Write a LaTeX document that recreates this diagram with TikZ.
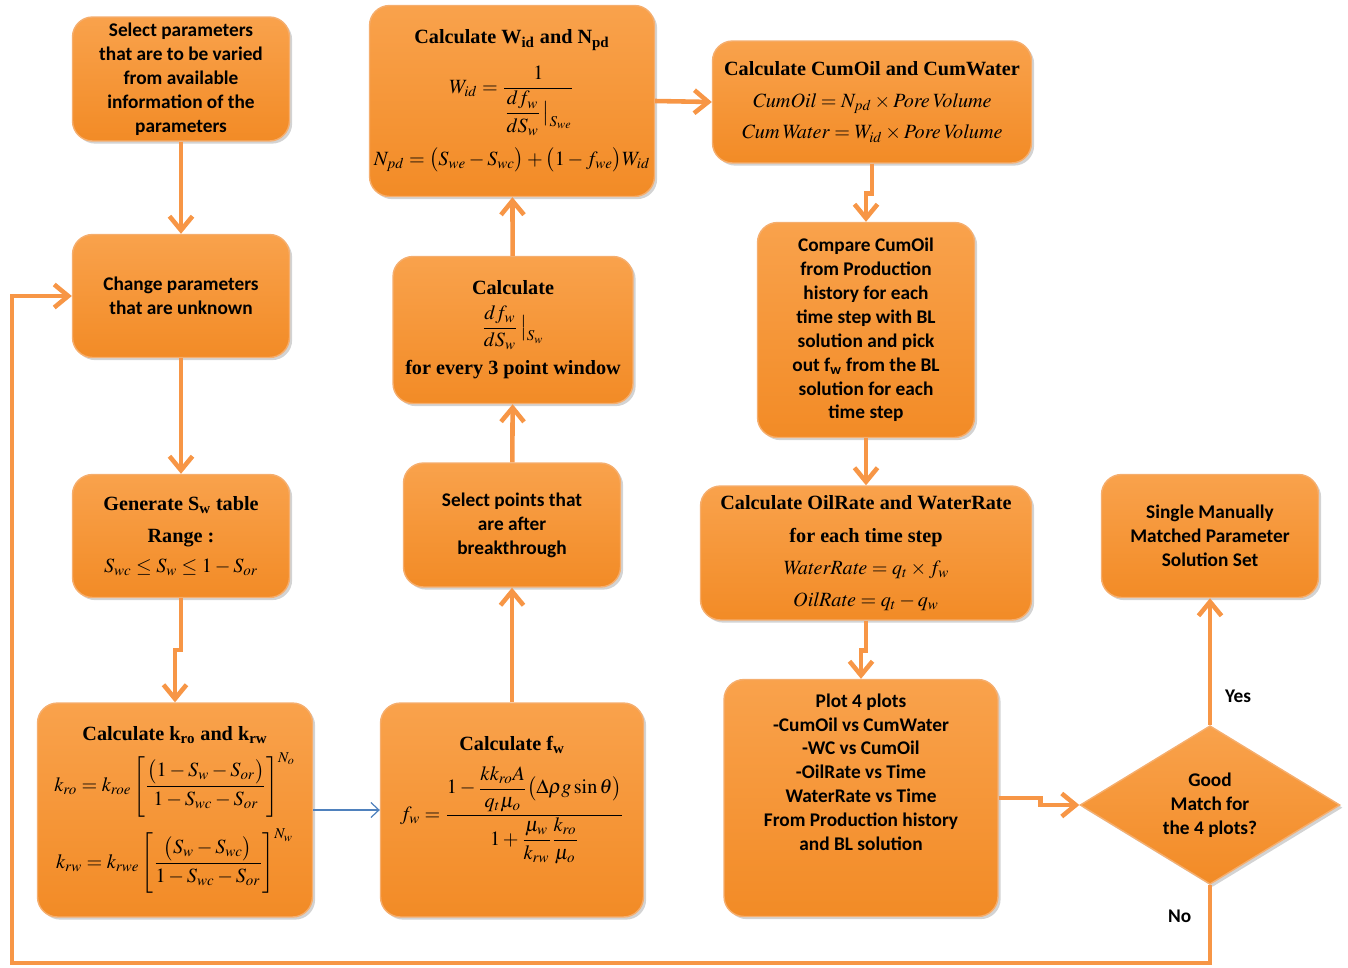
\documentclass[tikz,border=0pt]{standalone}
\usepackage{amsmath}
\usepackage{mathptmx}
\usepackage[no-math]{fontspec}
\setmainfont{Liberation Serif}
\newfontfamily\calib{Carlito}
\usetikzlibrary{arrows.meta,shapes.geometric,shadows}
\definecolor{boxtop}{HTML}{F9A24C}
\definecolor{boxbot}{HTML}{F28B26}
\definecolor{boxrim}{HTML}{F5AE6E}
\definecolor{linkorange}{HTML}{F79646}
\definecolor{linkblue}{HTML}{4F81BD}

\begin{document}
\begin{tikzpicture}[x=0.02cm,y=-0.02cm,
      box/.style={draw=boxrim,line width=0.8pt,top color=boxtop,bottom color=boxbot,
                  rounded corners=0.4cm,align=center,inner sep=2pt,
                  drop shadow={shadow xshift=1.5pt,shadow yshift=-1.5pt,opacity=0.35}},
      sans/.style={box,font=\calib\bfseries\fontsize{11}{13.6}\selectfont},
      calc/.style={box,font=\fontsize{11.5}{15}\selectfont},
      flow/.style={draw=linkorange,line width=2.6pt,
                   -{Straight Barb[length=2.8mm,width=4.6mm]}},
      thin/.style={draw=linkblue,line width=0.7pt,
                   -{Straight Barb[length=1.6mm,width=3mm]}},
      tag/.style={font=\calib\bfseries\fontsize{11}{13.6}\selectfont}]
    \useasboundingbox (0,0) rectangle (1348,967);
    % left column
    \node[sans,minimum width=4.34cm,minimum height=2.48cm] (sel) at (181,79)
      {Select parameters\\that are to be varied\\from available\\information of the\\parameters};
    \node[sans,minimum width=4.34cm,minimum height=2.46cm] (chg) at (181,296)
      {Change parameters\\that are unknown};
    \node[calc,minimum width=4.34cm,minimum height=2.46cm] (gen) at (181,536)
      {\textbf{Generate S\textsubscript{w} table}\\[3pt]\textbf{Range :}\\[2pt]
       $S_{wc}\le S_w\le 1-S_{or}$};
    \node[calc,minimum width=5.5cm,minimum height=4.28cm] (krel) at (175,810)
      {\textbf{Calculate k\textsubscript{ro} and k\textsubscript{rw}}\\[4pt]
       $k_{ro}=k_{roe}\left[\dfrac{\bigl(1-S_w-S_{or}\bigr)}{1-S_{wc}-S_{or}}\right]^{N_o}$\\[6pt]
       $k_{rw}=k_{rwe}\left[\dfrac{\bigl(S_w-S_{wc}\bigr)}{1-S_{wc}-S_{or}}\right]^{N_w}$};
    % middle column
    \node[calc,minimum width=5.26cm,minimum height=4.28cm] (frac) at (512,810)
      {\textbf{Calculate f\textsubscript{w}}\\[6pt]
       $f_w=\dfrac{1-\dfrac{kk_{ro}A}{q_t\mu_o}\bigl(\Delta\rho g\sin\theta\bigr)}
                  {1+\dfrac{\mu_w}{k_{rw}}\dfrac{k_{ro}}{\mu_o}}$\\[10pt]};
    \node[sans,minimum width=4.34cm,minimum height=2.48cm] (pts) at (512,525)
      {Select points that\\are after\\breakthrough};
    \node[calc,minimum width=4.8cm,minimum height=2.94cm] (deriv) at (513,330)
      {\textbf{Calculate}\\[5pt]$\dfrac{df_w}{dS_w}\,\big|_{S_w}$\\[5pt]
       \textbf{for every 3 point window}};
    \node[calc,minimum width=5.7cm,minimum height=3.82cm] (wid) at (512,101)
      {\textbf{Calculate W\textsubscript{id} and N\textsubscript{pd}}\\[8pt]
       $W_{id}=\dfrac{1}{\dfrac{df_w}{dS_w}\,\big|_{S_{we}}}$\\[6pt]
       $N_{pd}=\bigl(S_{we}-S_{wc}\bigr)+\bigl(1-f_{we}\bigr)W_{id}$};
    % right column
    \node[calc,minimum width=6.38cm,minimum height=2.44cm] (cum) at (872,102)
      {\textbf{Calculate CumOil and CumWater}\\[3pt]
       $\mathit{CumOil}=N_{pd}\times \mathit{Pore\,Volume}$\\[3pt]
       $\mathit{Cum\,Water}=W_{id}\times \mathit{Pore\,Volume}$};
    \node[sans,minimum width=4.34cm,minimum height=4.3cm] (cmp) at (866,330)
      {Compare CumOil\\from Production\\history for each\\time step with BL\\solution and pick\\
       out f\textsubscript{w} from the BL\\solution for each\\time step};
    \node[calc,minimum width=6.62cm,minimum height=2.68cm] (rate) at (866,553)
      {\textbf{Calculate OilRate and WaterRate}\\[4pt]\textbf{for each time step}\\[3pt]
       $\mathit{WaterRate}=q_t\times f_w$\\[3pt]$\mathit{OilRate}=q_t-q_w$};
    \node[sans,minimum width=5.48cm,minimum height=4.74cm] (plot) at (861,798)
      {Plot 4 plots\\-CumOil vs CumWater\\-WC vs CumOil\\-OilRate vs Time\\
       WaterRate vs Time\\From Production history\\and BL solution\\[16pt]};
    \node[sans,diamond,rounded corners=0pt,inner sep=0pt,minimum width=5.2cm,
          minimum height=3.1cm] (match) at (1210,805)
      {Good\\Match for\\the 4 plots?};
    \node[sans,minimum width=4.34cm,minimum height=2.46cm] (fin) at (1210,536)
      {Single Manually\\Matched Parameter\\Solution Set};
    % connectors
    \draw[flow] (sel) -- (chg);
    \draw[flow] (chg) -- (gen);
    \draw[flow] (gen.south) -- ++(0,52) -| (krel.north);
    \draw[thin] (krel.east) -- (frac.west);
    \draw[flow] (frac) -- (pts);
    \draw[flow] (pts) -- (deriv);
    \draw[flow] (deriv) -- (wid);
    \draw[flow] (wid.east) -- (cum.west);
    \draw[flow] (cum.south) -- ++(0,30) -| (cmp.north);
    \draw[flow] (cmp) -- (rate);
    \draw[flow] (rate.south) -- ++(0,30) -| (plot.north);
    \draw[flow] (plot.east) -- ++(42,0) |- (match.west);
    \draw[flow] (match.north) -- node[tag,pos=0.23,right=4pt] {Yes} (fin.south);
    \coordinate (loop) at (12,963);
    \draw[flow] (match.south) |- node[tag,pos=0.2,left=6pt] {No} (loop) |- (chg.west);
\end{tikzpicture}
\end{document}
